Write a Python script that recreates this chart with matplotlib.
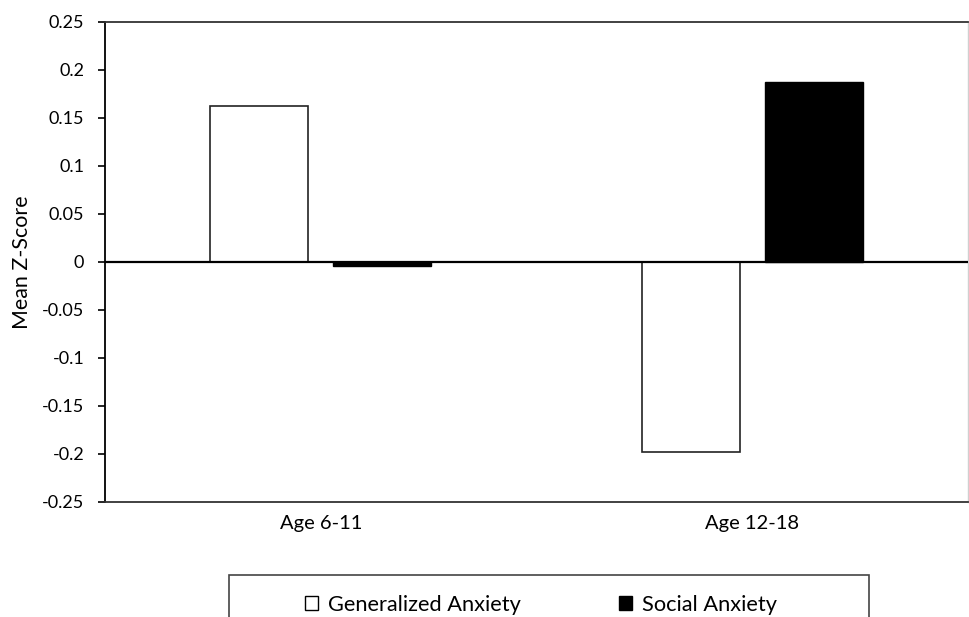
import numpy as np
import matplotlib
matplotlib.use('Agg')
import matplotlib.pyplot as plt
from matplotlib.patches import Patch, Rectangle

# data
groups = ['Age 6-11', 'Age 12-18']
series_names = ['Generalized Anxiety', 'Social Anxiety']
gen_anx = [0.163, -0.198]
soc_anx = [-0.004, 0.188]
y_ticks = [0.25, 0.2, 0.15, 0.1, 0.05, 0, -0.05, -0.1, -0.15, -0.2, -0.25]

plt.rcParams['font.family'] = ['Lato', 'DejaVu Sans']

W, H = 969, 617
fig = plt.figure(figsize=(W/100, H/100), dpi=100)
ax = fig.add_axes([105/W, 1-502/H, (968-105)/W, (502-22)/H])

x = np.arange(len(groups))
bar_w = 0.227
off = 0.1425
ax.bar(x - off, gen_anx, bar_w, color='white', edgecolor='#222222', linewidth=1.2, zorder=2)
ax.bar(x + off, soc_anx, bar_w, color='black', edgecolor='black', linewidth=1.0, zorder=2)
ax.axhline(0, color='black', linewidth=1.6, zorder=3)

ax.set_xlim(-0.5, 1.5)
ax.set_ylim(-0.25, 0.25)
ax.set_yticks(y_ticks)
ax.set_yticklabels([('%g' % v) for v in y_ticks], fontsize=13)
ax.set_xticks(x)
ax.set_xticklabels(groups, fontsize=14.5)
ax.tick_params(axis='x', length=0, pad=9)
ax.tick_params(axis='y', direction='out', length=5, width=1.2, pad=10)
ax.set_ylabel('Mean Z-Score', fontsize=15.4, labelpad=7)

for s in ['left', 'bottom', 'top']:
    ax.spines[s].set_color('#333333')
    ax.spines[s].set_linewidth(1.3)
ax.spines['right'].set_color('#d0d0d0')
ax.spines['right'].set_linewidth(1.0)
ax.spines['left'].set_color('black')

# legend frame runs past the bottom edge of the figure
fig.patches.append(Rectangle((229/W, -0.1), (869-229)/W, 0.1 + (617-575)/H,
                             transform=fig.transFigure, facecolor='white',
                             edgecolor='#444444', linewidth=1.2))

handles = [Patch(facecolor='white', edgecolor='black', linewidth=1.0),
           Patch(facecolor='black', edgecolor='black', linewidth=1.0)]
leg = fig.legend(handles, series_names, loc='center',
                 bbox_to_anchor=(541/W, 1-605/H),
                 ncol=2, fontsize=15.7, frameon=False,
                 handlelength=0.6, handleheight=0.6, handletextpad=0.45,
                 columnspacing=4.5, borderpad=0)

fig.savefig('out.png', dpi=100)
